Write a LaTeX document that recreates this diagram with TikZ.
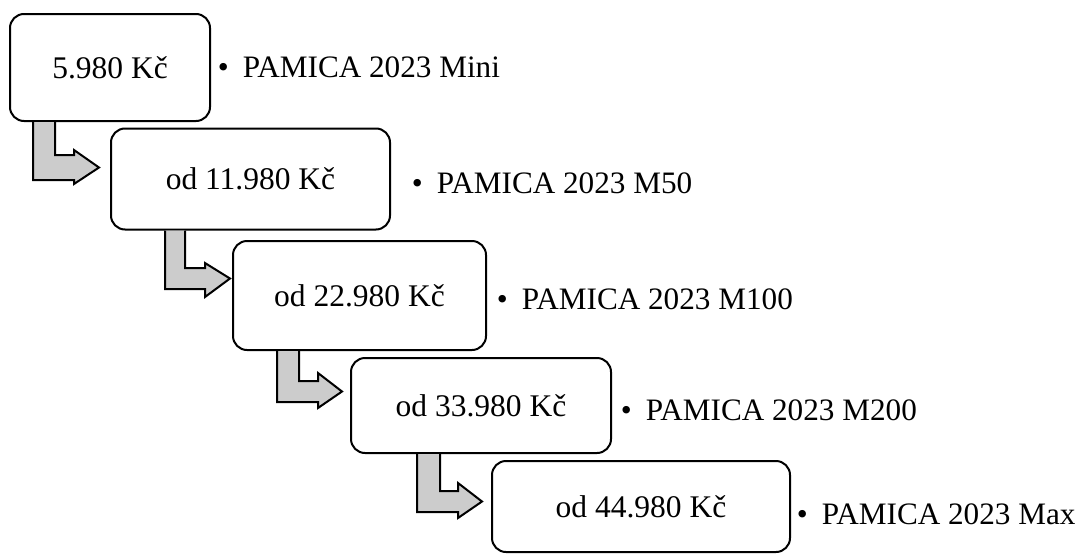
\documentclass[tikz,border=0pt]{standalone}
\usepackage{fontspec}
\setmainfont{Liberation Serif}
\begin{document}
\begin{tikzpicture}[x=1pt,y=-1pt,
  pricebox/.style={draw=black, line width=2pt, rounded corners=14pt, fill=white,
    inner sep=0pt, font=\fontsize{31.5}{36}\selectfont},
  lbl/.style={anchor=west, inner sep=0pt, font=\fontsize{31.2}{36}\selectfont},
  bent/.style={draw=black, line width=2pt, fill=black!20, line join=miter}]
\useasboundingbox (0,0) rectangle (1083,554);
% boxes
\node[pricebox, minimum width=200pt, minimum height=107pt] (b1) at (110,67.5) {5.980 Kč};
\node[pricebox, minimum width=279pt, minimum height=101pt] (b2) at (250.5,179) {od 11.980 Kč};
\node[pricebox, minimum width=253pt, minimum height=109pt] (b3) at (359.5,295.5) {od 22.980 Kč};
\node[pricebox, minimum width=260pt, minimum height=95pt] (b4) at (481,405.5) {od 33.980 Kč};
\node[pricebox, minimum width=298pt, minimum height=91pt] (b5) at (641,506.5) {od 44.980 Kč};
% labels
\node[lbl] (l1) at (217.7,67.5) {\textbullet\hspace{0.45em}PAMICA 2023 Mini};
\node[lbl] (l2) at (411.7,183.5) {\textbullet\hspace{0.45em}PAMICA 2023 M50};
\node[lbl] (l3) at (496.7,299) {\textbullet\hspace{0.45em}PAMICA 2023 M100};
\node[lbl] (l4) at (620.7,410) {\textbullet\hspace{0.45em}PAMICA 2023 M200};
\node[lbl] (l5) at (796.7,514) {\textbullet\hspace{0.45em}PAMICA 2023 Max};
% bent arrows: xl, xr, ht, hb, x0, xt, yh1, yh2, source box
\foreach \xl/\xr/\ht/\hb/\xo/\xt/\ya/\yb/\src in {
   33/55/155/180/74/99/150/184/b1,
   165/185/268/289/205/230/263/297/b2,
   277/299/381/402/318/342/373/408/b3,
   417/440/491/512/458/482/483/518/b4}{
  \path (\src.south) coordinate (top);
  \draw[bent] (\xl,0 |- top) -- (\xl,\hb) -- (\xo,\hb) -- (\xo,\yb)
     -- (\xt,{(\ht+\hb)/2}) -- (\xo,\ya) -- (\xo,\ht) -- (\xr,\ht) -- (\xr,0 |- top);
}
\end{tikzpicture}
\end{document}
